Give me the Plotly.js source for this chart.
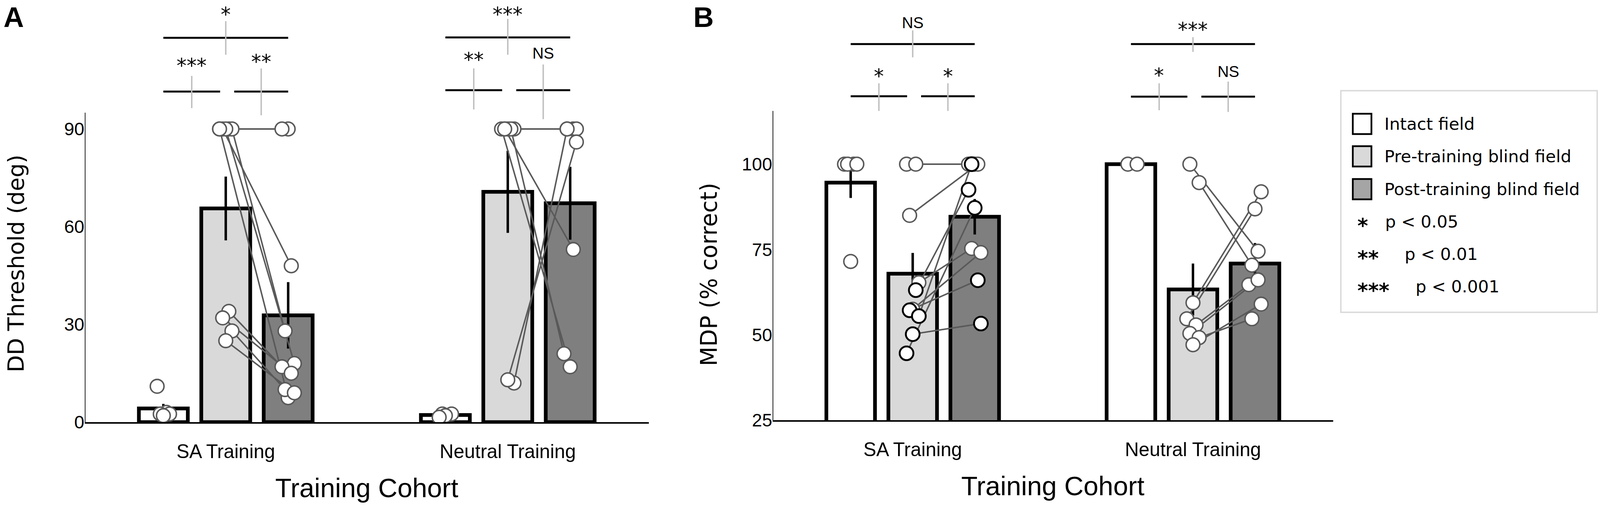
<!DOCTYPE html>
<html>
<head>
<meta charset="utf-8">
<script src="https://cdn.plot.ly/plotly-3.0.1.min.js"></script>
<style>
  html, body { margin: 0; padding: 0; background: #fff; overflow: hidden; }
  #chart { width: 100vw; height: 100vh; }
</style>
</head>
<body>
<div id="chart"></div>
<script>
// ---- data ----
const cohorts = ['SA Training', 'Neutral Training'];
const conditions = ['Intact field', 'Pre-training blind field', 'Post-training blind field'];

// Panel A: DD threshold (deg) - group means and SEM, [intact, pre, post]
const ddMeanSA = [4.2, 65.6, 32.8];
const ddMeanNeutral = [2.2, 70.7, 67.2];
const ddSemSA = [1.4, 9.8, 10.2];
const ddSemNeutral = [0.3, 12.6, 11.2];

// Panel A: individual subjects
const ddIntactSA = [11, 3, 2.5, 2.5, 2];
const ddPreSA = [90, 90, 90, 90, 90, 90, 34, 32, 28, 25];
const ddPostSA = [90, 90, 48, 28, 18, 7.5, 17, 15, 10, 9];
const ddIntactNeutral = [2.5, 2.5, 2, 1.5];
const ddPreNeutral = [90, 90, 90, 90, 90, 90, 12, 13];
const ddPostNeutral = [90, 90, 90, 17, 21, 53, 90, 86];

// Panel B: MDP (% correct) - group means and SEM
const mdpMeanSA = [94.6, 67.9, 84.6];
const mdpMeanNeutral = [100, 63.3, 70.9];
const mdpSemSA = [4.5, 6.1, 5.2];
const mdpSemNeutral = [0, 7.6, 6.0];

// Panel B: individual subjects (SA cohort drawn as two subject sets)
const mdpIntactSA = [100, 100, 100, 100, 71.5];
const mdpPreSA1 = [100, 100, 85, 65.3, 57.5];
const mdpPostSA1 = [100, 100, 100, 75.3, 74.1];
const mdpPreSA2 = [63.1, 57.2, 55.5, 50.2, 44.6];
const mdpPostSA2 = [92.5, 66, 100, 53.3, 87.2];
const mdpIntactNeutral = [100, 100];
const mdpPreNeutral = [100, 94.6, 59.4, 54.7, 52.9, 50.4, 49.2, 47.1];
const mdpPostNeutral = [74.5, 70.4, 91.9, 86.9, 64.7, 66.1, 54.7, 59.0];

// significance: per cohort [intact vs post, intact vs pre, pre vs post]
const sigA = ['*', '***', '**', '***', '**', 'NS'];
const sigB = ['NS', '*', '*', '***', '*', 'NS'];

const pStars = ['*', '**', '***'];
const pText = ['p < 0.05', 'p < 0.01', 'p < 0.001'];

// ---- sizing: laid out on a 4550 x 1292 grid, scaled to the window ----
const REF_W = 4550, REF_H = 1292;
const W = window.innerWidth || REF_W;
const H = window.innerHeight || REF_H;
const S = W / REF_W;          // horizontal scale
const SY = H / REF_H;         // vertical scale
const SF = (S + SY) / 2;      // text scale
const s = v => v * S;
const sy = v => v * SY;
const sf = v => v * SF;
const px = v => v / REF_W;
const py = v => 1 - v / REF_H;

const FILL = ['#ffffff', '#d9d9d9', '#7f7f7f'];
const LEGEND_FILL = ['#ffffff', '#d9d9d9', '#a5a5a5'];
const PT_GRAY = '#595959';
const TXT = 'Liberation Sans, Arial, sans-serif';
const SANS = 'DejaVu Sans, sans-serif';
const SLOT = 0.2213, BAR_W = 0.1735;

const xPos = (cat, k) => cat + (k - 1) * SLOT;
const jitter = (i, phase) => (((i * 3 + phase) % 5) - 2) * 0.011;

const traces = [];
const lineTraces = [];
const markerTraces = [];

function addBars(meanSA, meanN, semSA, semN, xa, ya) {
  conditions.forEach((name, k) => {
    traces.push({
      type: 'bar', name: name, xaxis: xa, yaxis: ya,
      x: [xPos(0, k), xPos(1, k)],
      y: [meanSA[k], meanN[k]],
      width: BAR_W,
      marker: { color: FILL[k], line: { color: '#000', width: sf(10) } },
      error_y: { type: 'data', array: [semSA[k], semN[k]], color: '#000', thickness: s(7), width: 0 },
      showlegend: false, hoverinfo: 'y'
    });
  });
}

function addPoints(cat, k, vals, phase, xa, ya, outline) {
  markerTraces.push({
    type: 'scatter', mode: 'markers', xaxis: xa, yaxis: ya,
    x: vals.map((v, i) => xPos(cat, k) + jitter(i, phase)),
    y: vals,
    marker: { size: sf(37), color: '#ffffff',
      line: { color: outline, width: sf(outline === '#000' ? 5 : 4) } },
    hoverinfo: 'y', showlegend: false
  });
}

function addPairs(cat, pre, post, phase, xa, ya, outline) {
  const x = [], y = [];
  pre.forEach((v, i) => {
    x.push(xPos(cat, 1) + jitter(i, phase), xPos(cat, 2) + jitter(i, phase + 2), null);
    y.push(v, post[i], null);
  });
  lineTraces.push({
    type: 'scatter', mode: 'lines', x: x, y: y, xaxis: xa, yaxis: ya,
    line: { color: PT_GRAY, width: sf(4) }, hoverinfo: 'skip', showlegend: false
  });
  addPoints(cat, 1, pre, phase, xa, ya, outline);
  addPoints(cat, 2, post, phase + 2, xa, ya, outline);
}

function axisLine(xa, ya, y0, y1) {
  return {
    type: 'scatter', mode: 'lines', x: [-0.5, -0.5], y: [y0, y1], xaxis: xa, yaxis: ya,
    line: { color: '#000', width: s(4) }, cliponaxis: false, hoverinfo: 'skip', showlegend: false
  };
}

// panel A
addBars(ddMeanSA, ddMeanNeutral, ddSemSA, ddSemNeutral, 'x', 'y');
addPoints(0, 0, ddIntactSA, 0, 'x', 'y', PT_GRAY);
addPoints(1, 0, ddIntactNeutral, 1, 'x', 'y', PT_GRAY);
addPairs(0, ddPreSA, ddPostSA, 0, 'x', 'y', PT_GRAY);
addPairs(1, ddPreNeutral, ddPostNeutral, 1, 'x', 'y', PT_GRAY);

// panel B
addBars(mdpMeanSA, mdpMeanNeutral, mdpSemSA, mdpSemNeutral, 'x2', 'y2');
addPoints(0, 0, mdpIntactSA, 0, 'x2', 'y2', PT_GRAY);
addPoints(1, 0, mdpIntactNeutral, 1, 'x2', 'y2', PT_GRAY);
addPairs(0, mdpPreSA1, mdpPostSA1, 0, 'x2', 'y2', PT_GRAY);
addPairs(0, mdpPreSA2, mdpPostSA2, 3, 'x2', 'y2', '#000');
addPairs(1, mdpPreNeutral, mdpPostNeutral, 1, 'x2', 'y2', PT_GRAY);

const data = traces.concat(lineTraces, markerTraces,
  [axisLine('x', 'y', 0, 95), axisLine('x2', 'y2', 25, 115.6)]);

// ---- significance brackets ----
// [cat, from, to, lineY, tickTop, tickBottom, labelY]
const bracketsA = [
  [0, 0, 2, 118.0, 123.1, 112.8, 125.2],
  [0, 0, 1, 101.5, 106.3, 96.4, 109.4],
  [0, 1, 2, 101.5, 108.6, 94.2, 110.6],
  [1, 0, 2, 118.1, 123.8, 112.8, 125.2],
  [1, 0, 1, 101.9, 108.6, 96.0, 111.2],
  [1, 1, 2, 101.9, 109.8, 93.0, 113.3]
];
const bracketsB = [
  [0, 0, 2, 135.2, 139.2, 131.3, 141.5],
  [0, 0, 1, 119.9, 123.7, 115.6, 125.8],
  [0, 1, 2, 119.9, 123.7, 115.6, 125.8],
  [1, 0, 2, 135.2, 137.2, 132.9, 139.4],
  [1, 0, 1, 119.8, 123.7, 115.8, 126.0],
  [1, 1, 2, 119.8, 124.2, 115.3, 127.1]
];

const shapes = [];
const annotations = [];

function addBrackets(list, labels, xa, ya) {
  list.forEach((b, i) => {
    const [cat, k0, k1, ly, t0, t1, lab] = b;
    let x0 = xPos(cat, k0), x1 = xPos(cat, k1);
    if (k1 - k0 === 1) {
      if (k0 === 0) x1 -= 0.02; else x0 += 0.03;
    }
    const xm = (x0 + x1) / 2;
    shapes.push({ type: 'line', xref: xa, yref: ya, x0: x0, x1: x1, y0: ly, y1: ly,
      line: { color: '#000', width: sy(5) } });
    shapes.push({ type: 'line', xref: xa, yref: ya, x0: xm, x1: xm, y0: t1, y1: t0,
      line: { color: '#bfbfbf', width: s(4) } });
    const star = labels[i] !== 'NS';
    annotations.push({ xref: xa, yref: ya, x: xm, y: lab, text: labels[i], showarrow: false,
      xanchor: 'center', yanchor: 'middle',
      font: star ? { family: SANS, size: sf(54), color: '#000' }
                 : { family: TXT, size: sf(42), color: '#000' } });
  });
}
addBrackets(bracketsA, sigA, 'x', 'y');
addBrackets(bracketsB, sigB, 'x2', 'y2');

// panel letters
annotations.push({ xref: 'paper', yref: 'paper', x: px(8), y: py(2), xanchor: 'left', yanchor: 'top',
  text: '<b>A</b>', showarrow: false, font: { family: TXT, size: sf(76), color: '#000' } });
annotations.push({ xref: 'paper', yref: 'paper', x: px(1970), y: py(2), xanchor: 'left', yanchor: 'top',
  text: '<b>B</b>', showarrow: false, font: { family: TXT, size: sf(76), color: '#000' } });

// y axis titles
annotations.push({ xref: 'paper', yref: 'paper', x: px(46), y: py(674), textangle: -90,
  text: 'DD Threshold (deg)', showarrow: false, xanchor: 'center', yanchor: 'middle',
  font: { family: SANS, size: sf(60), color: '#000' } });
annotations.push({ xref: 'paper', yref: 'paper', x: px(2016), y: py(702), textangle: -90,
  text: 'MDP (% correct)', showarrow: false, xanchor: 'center', yanchor: 'middle',
  font: { family: SANS, size: sf(61), color: '#000' } });

// ---- legend (drawn by hand to get large swatches) ----
shapes.push({ type: 'rect', xref: 'paper', yref: 'paper', x0: px(3813), x1: px(4542), y0: py(799), y1: py(232),
  line: { color: '#d9d9d9', width: s(4) }, fillcolor: 'rgba(0,0,0,0)' });
const rowY = [317, 400, 484, 567, 650, 733];
conditions.forEach((name, k) => {
  shapes.push({ type: 'rect', xref: 'paper', yref: 'paper',
    x0: px(3847), x1: px(3900), y0: py(rowY[k] + 26), y1: py(rowY[k] - 26),
    line: { color: '#000', width: s(5) }, fillcolor: LEGEND_FILL[k] });
  annotations.push({ xref: 'paper', yref: 'paper', x: px(3935), y: py(rowY[k]), xanchor: 'left', yanchor: 'middle',
    text: name, showarrow: false, font: { family: SANS, size: s(48), color: '#000' } });
});
const pTextX = [3937, 3992, 4023];
pStars.forEach((st, i) => {
  annotations.push({ xref: 'paper', yref: 'paper', x: px(3858), y: py(rowY[3 + i] + 10), xanchor: 'left', yanchor: 'middle',
    text: '<b>' + st + '</b>', showarrow: false,
    font: { family: SANS, size: s(58), color: '#000' } });
  annotations.push({ xref: 'paper', yref: 'paper', x: px(pTextX[i]), y: py(rowY[3 + i]), xanchor: 'left', yanchor: 'middle',
    text: pText[i], showarrow: false, font: { family: SANS, size: s(48), color: '#000' } });
});

// ---- axes ----
function xAxis(domain, anchor) {
  return {
    domain: domain, anchor: anchor, range: [-0.5, 1.5],
    tickvals: [0, 1], ticktext: cohorts, ticks: '',
    showline: true, linecolor: '#000', linewidth: sy(4),
    showgrid: false, zeroline: false, fixedrange: true,
    tickfont: { family: TXT, size: sf(52), color: '#000' },
    ticklabelstandoff: sy(29),
    title: { text: 'Training Cohort', font: { family: TXT, size: sf(72), color: '#000' }, standoff: sy(44) }
  };
}
function yAxis(domain, anchor, range, ticks) {
  return {
    domain: domain, anchor: anchor, range: range, tickvals: ticks, ticks: '',
    showline: false, showgrid: false, zeroline: false, fixedrange: true,
    tickfont: { family: TXT, size: sf(49), color: '#000' },
    ticklabelstandoff: s(52)
  };
}

const layout = {
  width: W, height: H,
  margin: { l: 0, r: 0, t: 0, b: 0 },
  paper_bgcolor: '#ffffff', plot_bgcolor: '#ffffff',
  showlegend: false, barmode: 'overlay',
  font: { family: TXT, color: '#000' },
  xaxis: xAxis([px(241), px(1845)], 'y'),
  yaxis: yAxis([212 / REF_H, 1], 'x', [0, 129.6], [0, 30, 60, 90]),
  xaxis2: xAxis([px(2197), px(3791)], 'y2'),
  yaxis2: yAxis([217 / REF_H, 1], 'x2', [25, 148.1], [25, 50, 75, 100]),
  shapes: shapes,
  annotations: annotations
};

Plotly.newPlot('chart', data, layout, { displayModeBar: false, staticPlot: true });
</script>
</body>
</html>
